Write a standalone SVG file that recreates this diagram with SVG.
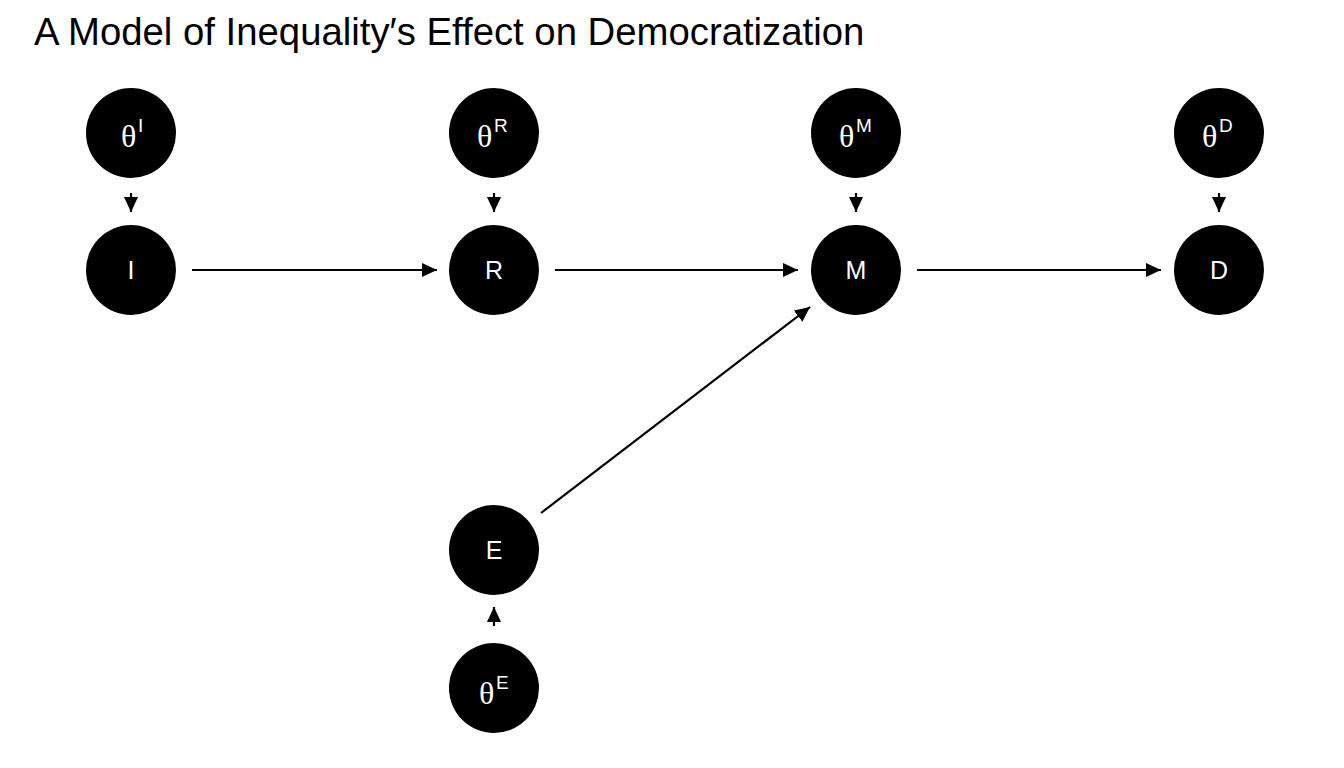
<svg xmlns="http://www.w3.org/2000/svg" width="1344" height="768" viewBox="0 0 1344 768">
<style>
.n{fill:#000}
.lab{fill:#fff;font-family:"Liberation Sans",Arial,sans-serif;font-size:25px;text-anchor:middle}
.th{fill:#fff;font-family:"Liberation Serif","Times New Roman",serif;font-size:32px}
.sup{fill:#fff;font-family:"Liberation Sans",Arial,sans-serif;font-size:19px}
.e{stroke:#000;stroke-width:2.2;fill:none;marker-end:url(#ah)}
.title{font-family:"Liberation Sans",Arial,sans-serif;font-size:38.3px;fill:#000}
</style>
<defs>
<marker id="ah" viewBox="0 0 15 14" refX="15" refY="7" markerWidth="15" markerHeight="14" markerUnits="userSpaceOnUse" orient="auto">
<path d="M0,0 L15,7 L0,14 Z" fill="#000"/>
</marker>
</defs>
<rect width="1344" height="768" fill="#fff"/>
<text class="title" x="34" y="45">A Model of Inequality′s Effect on Democratization</text>
<g id="connectors">
<line class="e" x1="192" y1="270" x2="437" y2="270"/>
<line class="e" x1="555" y1="270" x2="798" y2="270"/>
<line class="e" x1="917" y1="270" x2="1161" y2="270"/>
<line class="e" x1="541" y1="513" x2="810" y2="307"/>
<line class="e" x1="131" y1="193" x2="131" y2="212"/>
<line class="e" x1="494" y1="193" x2="494" y2="212"/>
<line class="e" x1="856" y1="193" x2="856" y2="212"/>
<line class="e" x1="1219" y1="193" x2="1219" y2="212"/>
<line class="e" x1="494" y1="626" x2="494" y2="607"/>
</g>
<g id="thetaI"><circle class="n" cx="131" cy="133" r="45"/><text class="th" x="121" y="147">θ</text><text class="sup" x="138" y="132">I</text></g>
<g id="thetaR"><circle class="n" cx="494" cy="133" r="45"/><text class="th" x="477" y="147">θ</text><text class="sup" x="494" y="132">R</text></g>
<g id="thetaM"><circle class="n" cx="856" cy="133" r="45"/><text class="th" x="839" y="147">θ</text><text class="sup" x="856" y="132">M</text></g>
<g id="thetaD"><circle class="n" cx="1219" cy="133" r="45"/><text class="th" x="1202" y="147">θ</text><text class="sup" x="1219" y="132">D</text></g>
<g id="I"><circle class="n" cx="131" cy="270" r="45"/><text class="lab" x="131" y="279">I</text></g>
<g id="R"><circle class="n" cx="494" cy="270" r="45"/><text class="lab" x="494" y="279">R</text></g>
<g id="M"><circle class="n" cx="856" cy="270" r="45"/><text class="lab" x="856" y="279">M</text></g>
<g id="D"><circle class="n" cx="1219" cy="270" r="45"/><text class="lab" x="1219" y="279">D</text></g>
<g id="E"><circle class="n" cx="494" cy="550" r="45"/><text class="lab" x="494" y="559">E</text></g>
<g id="thetaE"><circle class="n" cx="494" cy="688" r="45"/><text class="th" x="479" y="704">θ</text><text class="sup" x="496" y="689">E</text></g>
</svg>
